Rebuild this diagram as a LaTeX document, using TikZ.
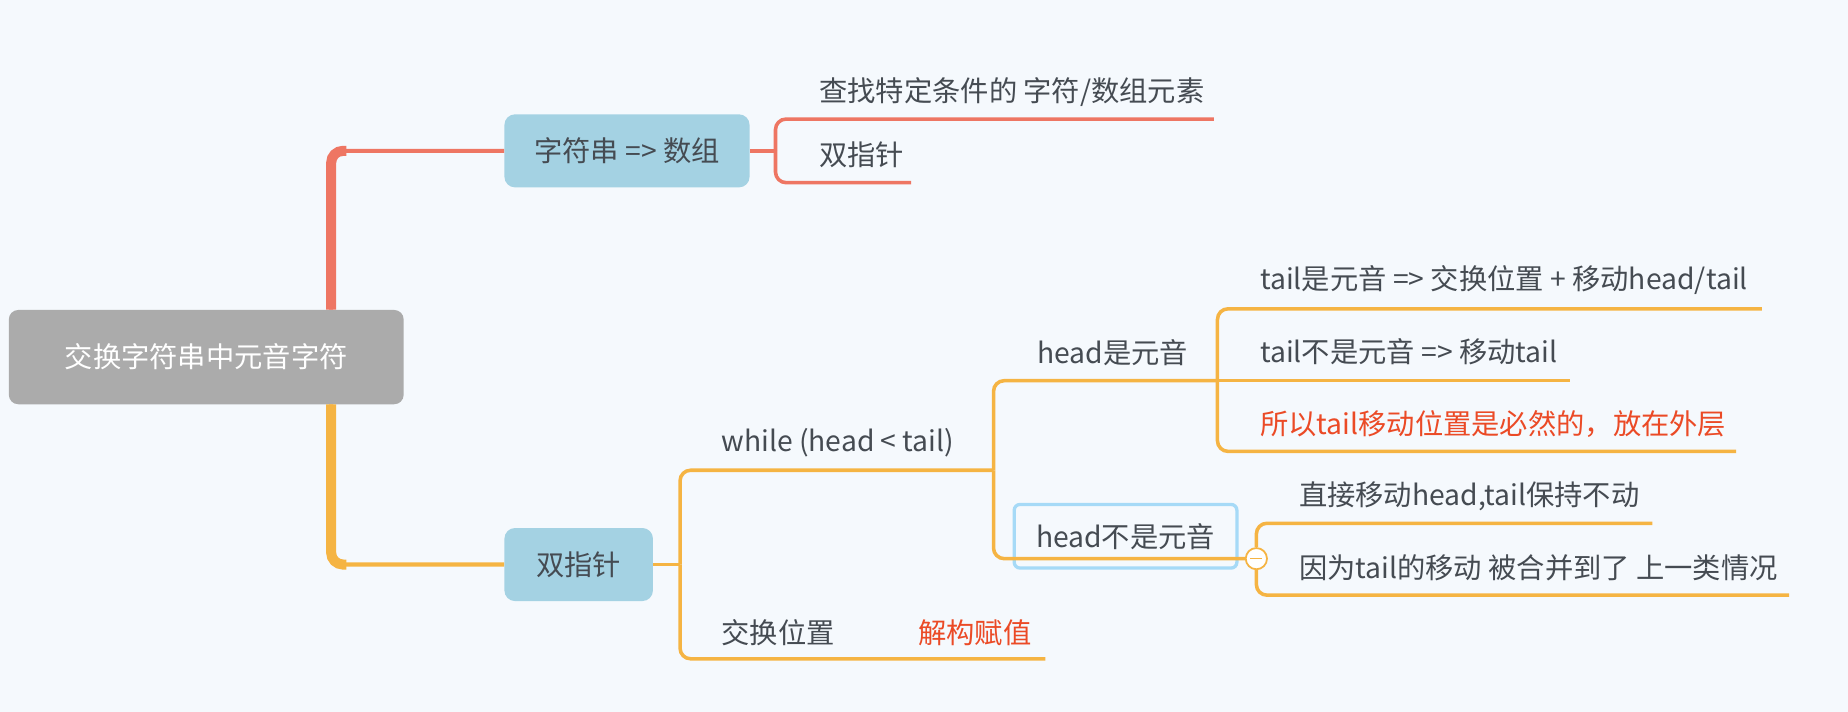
\documentclass[tikz,border=0pt]{standalone}
\usepackage{fontspec}
\setmainfont{Noto Sans CJK SC}
\usepackage{tikz}
\usetikzlibrary{positioning}
\definecolor{bgcol}{HTML}{F5F9FD}
\definecolor{rootgray}{HTML}{ABABAB}
\definecolor{topicblue}{HTML}{A4D2E3}
\definecolor{boxblue}{HTML}{A6DAF7}
\definecolor{linered}{HTML}{EE7663}
\definecolor{lineylw}{HTML}{F5B443}
\definecolor{textgray}{HTML}{454B52}
\definecolor{textred}{HTML}{EB4A26}
\tikzset{minimum size=0pt, font=\fontsize{24}{24}\selectfont}
\tikzstyle{root} = [fill=rootgray, rectangle, rounded corners=8pt, minimum width=335pt, minimum height=80pt, text=white]
\tikzstyle{topic} = [fill=topicblue, rectangle, rounded corners=9pt, minimum height=62pt, text=textgray]
\tikzstyle{leaf} = [anchor=west, inner sep=0pt, text=textgray]
\tikzstyle{note} = [leaf, text=textred]
\tikzstyle{chosen} = [draw=boxblue, line width=2.8pt, rounded corners=5pt, minimum width=189pt, minimum height=54pt, text=textgray]
\tikzstyle{fold} = [draw=lineylw, fill=white, circle, line width=1.5pt, minimum size=18pt, inner sep=0pt]
\tikzstyle{trunk} = [line width=8.5pt, rounded corners=10pt]
\tikzstyle{branch} = [line width=3.5pt, rounded corners=9pt]
\tikzstyle{twig} = [line width=3pt, rounded corners=9pt]

\begin{document}
\begin{tikzpicture}[x=1pt, y=-1pt]
        \fill [bgcol] (0,0) rectangle (1568,604);
        \useasboundingbox (0,0) rectangle (1568,604);

        \node [root] (root) at (175,303) {交换字符串中元音字符};
        \node [topic, minimum width=208pt] (str) at (532,128) {字符串 => 数组};
        \node [topic, minimum width=126pt] (ptr) at (491,479) {双指针};

        \node [leaf] (find) at (695,78) {查找特定条件的 字符/数组元素};
        \node [leaf] (ptr2) at (695,131) {双指针};
        \node [leaf] (while) at (612,376) {while (head < tail)};
        \node [leaf] (swap) at (612,537) {交换位置};
        \node [note] (destr) at (779,537) {解构赋值};
        \node [leaf] (hv) at (880,299) {head是元音};
        \node [chosen] (hnv) at (955,455) {head不是元音};
        \node [leaf] (tv) at (1069,238) {tail是元音 => 交换位置 + 移动head/tail};
        \node [leaf] (tnv) at (1069,298) {tail不是元音 => 移动tail};
        \node [note] (so) at (1069,360) {所以tail移动位置是必然的，放在外层};
        \node [leaf] (direct) at (1102,421) {直接移动head,tail保持不动};
        \node [leaf] (because) at (1102,482) {因为tail的移动 被合并到了 上一类情况};

        \coordinate (sbr) at (658,128);
        \coordinate (find-e) at (1030,101);
        \coordinate (ptr2-e) at (773,155);
        \coordinate (pbr) at (577,479);
        \coordinate (while-e) at (843,399);
        \coordinate (swap-e) at (887,559);
        \coordinate (hv-e) at (1033,323);
        \coordinate (tv-e) at (1495,262);
        \coordinate (tnv-e) at (1332,323);
        \coordinate (so-e) at (1473,383);
        \coordinate (direct-e) at (1402,444);
        \coordinate (because-e) at (1518,505);

        \draw [trunk, linered] ([xshift=106pt]root.north) |- ([xshift=-134pt]str.west);
        \draw [branch, linered] ([xshift=106pt]root.north) |- (str.west);
        \draw [trunk, lineylw] ([xshift=106pt]root.south) |- ([xshift=-134pt]ptr.west);
        \draw [branch, lineylw] ([xshift=106pt]root.south) |- (ptr.west);

        \draw [twig, linered] (str.east) -- (sbr);
        \draw [twig, linered] (sbr) |- (find-e);
        \draw [twig, linered] (sbr) |- (ptr2-e);

        \draw [twig, lineylw] (ptr.east) -- (pbr);
        \draw [twig, lineylw] (pbr) |- (while-e);
        \draw [twig, lineylw] (pbr) |- (swap-e);

        \node [fold] (fold) at (1066,474) {};
        \draw [twig, lineylw] (while-e) |- (hv-e);
        \draw [twig, lineylw] (while-e) |- (fold.west);
        \draw [twig, lineylw] (hv-e) |- (tv-e);
        \draw [twig, lineylw] (hv-e) -- (tnv-e);
        \draw [twig, lineylw] (hv-e) |- (so-e);
        \draw [twig, lineylw] (fold.north) |- (direct-e);
        \draw [twig, lineylw] (fold.south) |- (because-e);
        \draw [lineylw, line width=1.2pt] ([xshift=-5pt]fold.center) -- ([xshift=5pt]fold.center);
    \end{tikzpicture}
\end{document}
